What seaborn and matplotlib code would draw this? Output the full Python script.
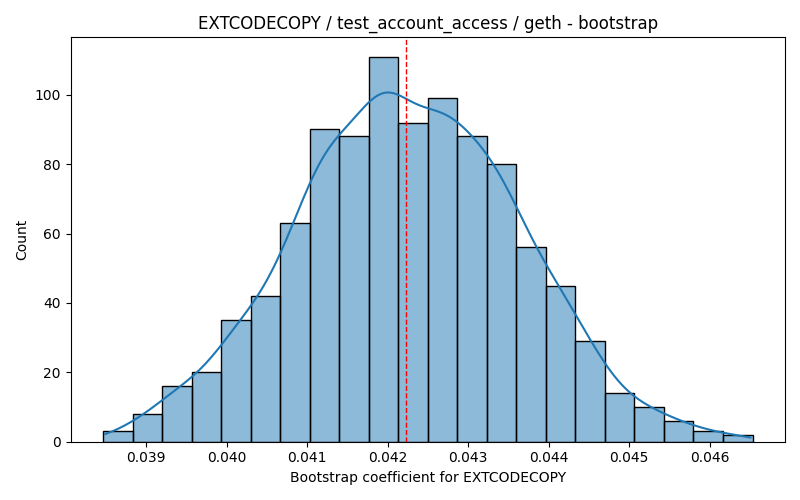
import numpy as np
import pandas as pd
import seaborn as sns
import matplotlib
matplotlib.use("Agg")
import matplotlib.pyplot as plt

# Bootstrap histogram (1000 resamples, 22 bins)
bin_lo = 0.038466
bin_hi = 0.046534
counts = [3, 8, 16, 20, 35, 42, 63, 90, 88, 111, 92,
          99, 88, 80, 56, 45, 29, 14, 10, 6, 3, 2]
point_estimate = 0.042227

edges = np.linspace(bin_lo, bin_hi, len(counts) + 1)
centers = (edges[:-1] + edges[1:]) / 2
df = pd.DataFrame({"coef": centers, "n": counts})

fig, ax = plt.subplots(figsize=(8, 5), dpi=100)
# weighted kde has small effective n, so tighten bandwidth to match raw-sample kde
sns.histplot(data=df, x="coef", weights="n", bins=list(edges), kde=True,
             kde_kws={"bw_adjust": 0.35, "cut": 0.35}, ax=ax)
ax.axvline(point_estimate, color="red", linestyle="--", linewidth=1)

ax.set_title("EXTCODECOPY / test_account_access / geth - bootstrap")
ax.set_xlabel("Bootstrap coefficient for EXTCODECOPY")
ax.set_ylabel("Count")

plt.tight_layout()
plt.savefig("out.png")
